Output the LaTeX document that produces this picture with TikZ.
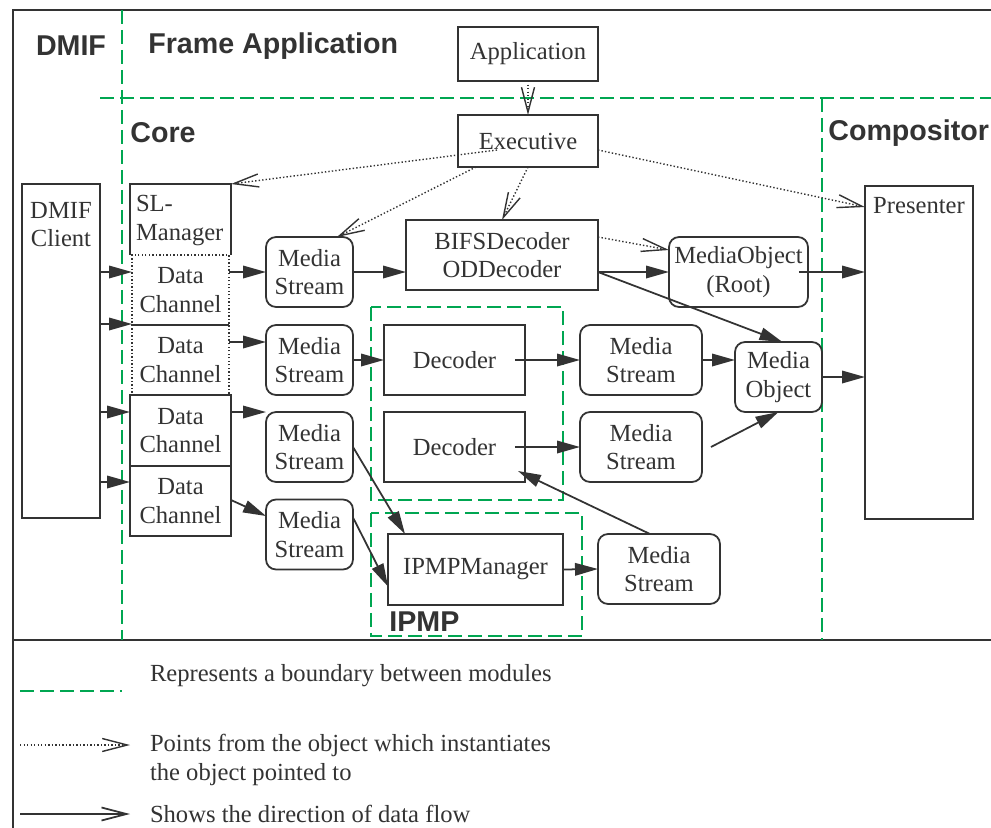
\documentclass[tikz,border=0pt]{standalone}
\usepackage{fontspec}
\setmainfont{Liberation Serif}
\setsansfont{Liberation Sans}
\usepackage{tikz}
\usetikzlibrary{arrows.meta}
\usetikzlibrary{positioning}
\definecolor{lineGray}{HTML}{333333}
\definecolor{moduleGreen}{HTML}{00A651}
\tikzset{mpeg-line/.style={draw=lineGray, line width=1pt}}
\tikzset{mpeg-text/.style={text=lineGray, align=center, inner sep=0pt, outer sep=0pt, font=\fontsize{14}{16.4}\selectfont}}
\tikzset{mpeg-box/.style={mpeg-text, mpeg-line, minimum width=2.02cm, minimum height=1.4cm}}
\tikzset{mpeg-dotbox/.style={mpeg-box, line width=0.8pt, dash pattern=on 0.8pt off 1.2pt}}
\tikzset{mpeg-stream/.style={mpeg-box, rounded corners=0.2cm, minimum width=1.74cm}}
\tikzset{module-label/.style={text=lineGray, inner sep=0pt, font=\sffamily\bfseries\fontsize{16.3}{19}\selectfont}}
\tikzset{boundary/.style={draw=moduleGreen, line width=0.9pt, dash pattern=on 0.28cm off 0.12cm}}
\tikzset{data-flow/.style={mpeg-line, -{Triangle[length=0.46cm,width=0.25cm]}}}
\tikzset{instantiates/.style={draw=lineGray, line width=0.8pt, dash pattern=on 0.8pt off 1.2pt, -{Straight Barb[length=0.5cm,width=0.26cm]}}}
\tikzset{>=latex}

\begin{document}
\begin{tikzpicture}[x=0.02cm, y=-0.02cm]
            \useasboundingbox (0,0) rectangle (991,828);
            \draw[mpeg-line, line width=1.2pt] (991,10) -- (13,10) -- (13,828);
            \draw[mpeg-line, line width=1.2pt] (13,640) -- (991,640);

            % module boundaries
            \draw[boundary, line width=0.7pt] (122,10) -- (122,640);
            \draw[boundary] (100,98) -- (991,98);
            \draw[boundary] (822,98) -- (822,640);
            \draw[boundary, line width=1.4pt] (371,307) rectangle (563,500);
            \draw[boundary, line width=1.4pt] (371,513) rectangle (582,636);

            \node[module-label] (dmif-label) at (71,46) {DMIF};
            \node[module-label, anchor=west] (frame-label) at (148,46) {Frame Application};
            \node[module-label, anchor=west] (core-label) at (130,133) {Core};
            \node[module-label, anchor=west] (compositor-label) at (828,133) {Compositor};
            \node[module-label, anchor=west] (ipmp-label) at (389,622) {IPMP};

            % frame application and core
            \node[mpeg-box, minimum width=2.8cm, minimum height=1.08cm] (app) at (528,54) {Application};
            \node[mpeg-box, minimum width=2.8cm, minimum height=1.04cm] (exec) at (528,141) {Executive};
            \node[mpeg-box, minimum width=3.84cm] (bifs) at (502,255) {BIFSDecoder\\ODDecoder};
            \node[mpeg-stream, minimum width=2.78cm] (root) at (738.5,272) {MediaObject\\(Root)};

            % dmif
            \node[mpeg-box, minimum width=1.56cm, minimum height=6.68cm] (client) at (61,351) {};
            \node[mpeg-text, below=0.36cm of client.north] (client-text) {DMIF\\Client};

            \node[mpeg-box, draw=none, minimum height=1.42cm] (slm) at (180.5,219.5) {};
            \draw[mpeg-line] (slm.south west) -- (slm.north west) -- (slm.north east) -- (slm.south east);
            \node[mpeg-text, align=left, below right=0.22cm and 0.12cm of slm.north west] (slm-text) {SL-\\Manager};
            \node[mpeg-dotbox, minimum width=1.94cm] (dc1) at (180.5,290) {Data\\Channel};
            \node[mpeg-dotbox, minimum width=1.94cm] (dc2) at (180.5,360) {Data\\Channel};
            \draw[mpeg-line] (dc1.south west) -- (dc1.south east);
            \node[mpeg-box, minimum height=1.42cm] (dc3) at (180.5,430.5) {Data\\Channel};
            \node[mpeg-box] (dc4) at (180.5,501) {Data\\Channel};

            \node[mpeg-stream] (ms1) at (309.5,272) {Media\\Stream};
            \node[mpeg-stream] (ms2) at (309.5,360) {Media\\Stream};
            \node[mpeg-stream] (ms3) at (309.5,447) {Media\\Stream};
            \node[mpeg-stream] (ms4) at (309.5,534.5) {Media\\Stream};

            \node[mpeg-box, minimum width=2.82cm] (dec1) at (454.5,360) {Decoder};
            \node[mpeg-box, minimum width=2.82cm] (dec2) at (454.5,447) {Decoder};
            \node[mpeg-box, minimum width=3.5cm, minimum height=1.42cm] (ipmpm) at (475.5,569.5) {IPMPManager};

            \node[mpeg-stream, minimum width=2.44cm] (ms5) at (641,360) {Media\\Stream};
            \node[mpeg-stream, minimum width=2.44cm] (ms6) at (641,447) {Media\\Stream};
            \node[mpeg-stream, minimum width=2.44cm] (ms7) at (659,569) {Media\\Stream};
            \node[mpeg-stream] (mo) at (778.5,377) {Media\\Object};

            % compositor
            \node[mpeg-box, minimum width=2.16cm, minimum height=6.66cm] (presenter) at (919,352.5) {};
            \node[mpeg-text, below=0.22cm of presenter.north] (presenter-text) {Presenter};

            % who instantiates whom
            \draw[instantiates] (app.south) -- (exec.north);
            \draw[instantiates] (exec.south) -- (bifs.north);
            \draw[instantiates] ([shift={(-31,9)}]exec.center) -- (slm.north east);
            \draw[instantiates] ([shift={(-52,0)}]exec.south) -- ([shift={(-16,0)}]ms1.north east);
            \draw[instantiates] ([shift={(0,9)}]exec.east) -- ([shift={(0,21)}]presenter.north west);
            \draw[instantiates] ([shift={(0,17)}]bifs.north east) -- ([shift={(0,-22)}]root.west);

            % data flow
            \draw[data-flow] (client.east |- 0,272) -- (dc1.west |- 0,272);
            \draw[data-flow] (client.east |- 0,324) -- (dc1.west |- 0,324);
            \draw[data-flow] (client.east |- 0,412) -- (dc3.west |- 0,412);
            \draw[data-flow] (client.east |- 0,482) -- (dc4.west |- 0,482);

            \draw[data-flow] (dc1.east |- ms1.west) -- (ms1.west);
            \draw[data-flow] (dc2.east |- 0,342) -- (ms2.west |- 0,342);
            \draw[data-flow] (dc3.east |- ms3.north west) -- (ms3.north west);
            \draw[data-flow] (dc4.east |- 0,500) -- (ms4.west |- 0,516);

            \draw[data-flow] (ms1.east) -- (bifs.west |- ms1.east);
            \draw[data-flow] (ms2.east) -- (dec1.west);
            \draw[data-flow] (ms3.east) -- ([shift={(17,0)}]ipmpm.north west);
            \draw[data-flow] ([shift={(0,-17)}]ms4.east) -- ([shift={(0,17)}]ipmpm.west);

            \draw[data-flow] ([shift={(-10,0)}]dec1.east) -- (ms5.west);
            \draw[data-flow] ([shift={(-10,0)}]dec2.east) -- (ms6.west);
            \draw[data-flow] (ipmpm.east) -- (ms7.west);
            \draw[data-flow] ([shift={(-9,0)}]ms7.north) -- ([shift={(-7,-11)}]dec2.south east);

            \draw[data-flow] (bifs.east |- root.west) -- (root.west);
            \draw[data-flow] (bifs.east |- root.west) -- ([shift={(4,0)}]mo.north);
            \draw[data-flow] (ms5.east) -- (mo.west |- ms5.east);
            \draw[data-flow] ([shift={(9,0)}]ms6.east) -- (mo.south);
            \draw[data-flow] ([shift={(-9,0)}]root.east) -- (presenter.west |- root.east);
            \draw[data-flow] (mo.east) -- (presenter.west |- mo.east);

            % legend
            \coordinate (lg-boundary-a) at (20,691);
            \coordinate (lg-boundary-b) at (122,691);
            \draw[boundary] (lg-boundary-a) -- (lg-boundary-b);
            \node[mpeg-text, anchor=west] (lg-boundary) at (150,676) {Represents a boundary between modules};

            \coordinate (lg-inst-a) at (20,745);
            \coordinate (lg-inst-b) at (130,745);
            \draw[instantiates] (lg-inst-a) -- (lg-inst-b);
            \node[mpeg-text, anchor=west, align=left] (lg-inst) at (150,760) {Points from the object which instantiates\\the object pointed to};

            \coordinate (lg-flow-a) at (20,814);
            \coordinate (lg-flow-b) at (130,814);
            \draw[mpeg-line, -{Straight Barb[length=0.5cm,width=0.26cm]}] (lg-flow-a) -- (lg-flow-b);
            \node[mpeg-text, anchor=west] (lg-flow) at (150,814) {Shows the direction of data flow};
        \end{tikzpicture}
\end{document}
